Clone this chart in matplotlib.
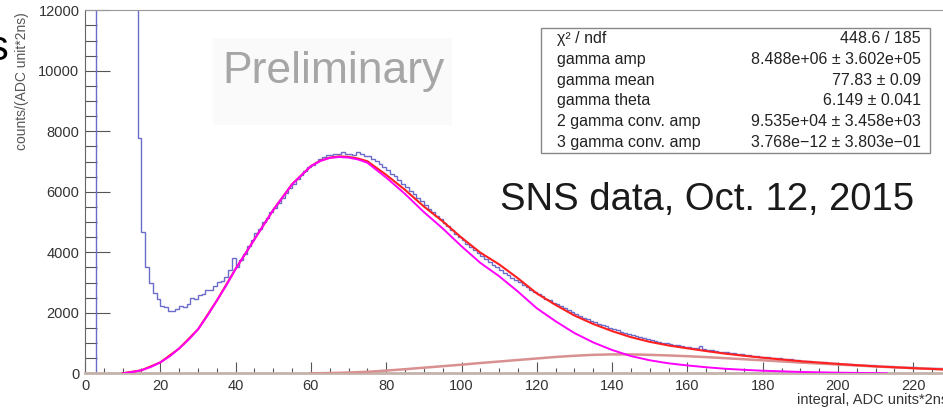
import matplotlib
matplotlib.use('Agg')
import matplotlib.pyplot as plt
from matplotlib.ticker import MultipleLocator
from matplotlib.patches import Rectangle

plt.rcParams['font.family'] = ['Liberation Sans', 'DejaVu Sans']

# histogram, 1 ADC*2ns per bin, bins 0..229
hist_counts = [
    0, 0, 0, 52000, 61000, 58000, 49000, 40000, 33000, 27000,
    22000, 18000, 15500, 13000, 7770, 4660, 3500, 2975, 2645, 2450,
    2230, 2180, 2060, 2050, 2110, 2220, 2200, 2290, 2480, 2460,
    2590, 2620, 2750, 2760, 2890, 3030, 3050, 3190, 3420, 3800,
    3500, 3760, 3950, 4200, 4400, 4650, 4780, 5000, 5130, 5330,
    5450, 5620, 5800, 5950, 6120, 6250, 6420, 6560, 6700, 6810,
    6900, 6990, 7100, 7140, 7200, 7220, 7260, 7240, 7330, 7250,
    7240, 7230, 7320, 7250, 7180, 7190, 7080, 7020, 6930, 6830,
    6720, 6600, 6510, 6380, 6260, 6160, 6020, 5920, 5790, 5680,
    5560, 5430, 5320, 5190, 5100, 4970, 4860, 4730, 4620, 4490,
    4400, 4290, 4190, 4090, 3980, 3890, 3790, 3690, 3590, 3500,
    3420, 3320, 3250, 3160, 3080, 3010, 2920, 2850, 2760, 2690,
    2610, 2550, 2470, 2420, 2340, 2280, 2210, 2150, 2080, 2010,
    1960, 1900, 1840, 1800, 1740, 1690, 1640, 1590, 1550, 1500,
    1460, 1420, 1380, 1340, 1300, 1260, 1220, 1190, 1160, 1120,
    1100, 1070, 1040, 1010, 990, 960, 940, 920, 900, 880,
    860, 840, 830, 900, 800, 780, 760, 740, 720, 710,
    690, 670, 660, 640, 630, 610, 600, 580, 570, 550,
    540, 530, 510, 500, 490, 480, 470, 460, 440, 430,
    420, 410, 400, 390, 390, 370, 360, 350, 340, 330,
    320, 320, 310, 300, 290, 290, 280, 270, 260, 260,
    250, 250, 240, 230, 230, 220, 220, 210, 210, 200,
    200, 190, 190, 180, 180, 170, 170, 160, 160, 150,
]
bin_edges = list(range(len(hist_counts) + 1))

# gamma component (magenta)
gamma_x = [10, 12.5, 15, 17.5, 20, 22.5, 25, 27.5, 30, 32.5, 35, 37.5, 40,
           45, 50, 55, 60, 62.5, 65, 67.5, 70, 72.5, 75, 80, 85,
           90, 95, 100, 105, 110, 115, 120, 125, 130, 135, 140, 145, 150,
           155, 160, 165, 170, 175, 180, 190, 200, 213]
gamma_y = [0, 40, 100, 210, 360, 560, 820, 1110, 1450, 1900, 2400, 2900, 3450,
           4430, 5400, 6250, 6850, 7020, 7120, 7150, 7130, 7070, 6960, 6470,
           5930, 5330, 4790, 4200, 3650, 3210, 2700, 2150,
           1720, 1330, 1020, 770, 570, 430, 330, 260, 200, 150, 115, 85, 45,
           20, 0]

# 2 gamma conversion component (pale red)
conv_x = [60, 65, 70, 75, 80, 85, 90, 95, 100, 105, 110, 115, 120, 125, 130,
          135, 140, 145, 150, 155, 160, 165, 170, 175, 180, 190, 200, 210,
          220, 230]
conv_y = [0, 8, 25, 50, 90, 135, 185, 235, 285, 340, 390, 440, 490, 540, 580,
          610, 625, 625, 610, 590, 565, 535, 500, 465, 430, 355, 290, 225,
          170, 120]

# total fit (red)
total_x = [10, 15, 20, 25, 30, 35, 40, 45, 50, 55, 60, 62.5, 65, 67.5, 70,
           72.5, 75, 80, 85, 90, 95, 100, 105, 110, 115, 120, 125, 130, 135,
           140, 145, 150, 155, 160, 165, 170, 175, 180, 190, 200, 210, 220, 230]
total_y = [0, 100, 360, 820, 1450, 2400, 3450, 4430, 5400, 6250, 6850, 7025,
           7130, 7170, 7155, 7100, 7010, 6560, 6065, 5515, 5025, 4485, 3990,
           3600, 3140, 2640, 2260, 1910, 1630, 1395, 1195, 1040, 920, 825, 735,
           650, 580, 515, 400, 310, 230, 170, 120]

stat_names = ['χ² / ndf', 'gamma amp', 'gamma mean', 'gamma theta',
              '2 gamma conv. amp', '3 gamma conv. amp']
stat_values = ['448.6 / 185', '8.488e+06 ± 3.602e+05', '77.83 ± 0.09',
               '6.149 ± 0.041', '9.535e+04 ± 3.458e+03',
               '3.768e−12 ± 3.803e−01']

W, H = 943, 411
fig = plt.figure(figsize=(W / 100, H / 100), dpi=100)


def fx(px):
    return px / W


def fy(py):
    return 1 - py / H


# faint patch behind "Preliminary"
fig.patches.append(Rectangle((fx(213), fy(125)), fx(452) - fx(213), fy(38) - fy(125),
                             transform=fig.transFigure, fc='#fafafa', ec='none', zorder=0))

ax = fig.add_axes([fx(85), 37.7 / H, 230 * 3.765 / W, 363 / H])
ax.patch.set_alpha(0)

ax.stairs(hist_counts, bin_edges, color='#6b6bcc', lw=1, zorder=2)
ax.plot(conv_x, conv_y, color='#d99090', lw=1.8, zorder=3)
ax.plot(total_x, total_y, color='#ff2020', lw=1.5, zorder=4)
ax.plot(gamma_x, gamma_y, color='#ff00ff', lw=1.4, zorder=5)

ax.set_xlim(0, 230)
ax.set_ylim(0, 12000)
ax.xaxis.set_major_locator(MultipleLocator(20))
ax.xaxis.set_minor_locator(MultipleLocator(5))
ax.yaxis.set_major_locator(MultipleLocator(2000))
ax.yaxis.set_minor_locator(MultipleLocator(500))

ax.tick_params(which='both', direction='in', color='#555555', width=0.8,
               labelsize=10.5, labelcolor='#333333')
ax.tick_params(axis='y', which='major', length=18, pad=4)
ax.tick_params(axis='y', which='minor', length=8.5)
ax.tick_params(axis='x', which='major', length=7.7, pad=4)
ax.tick_params(axis='x', which='minor', length=3.6)

ax.spines['top'].set_color('#999999')
ax.spines['left'].set_color('#666666')
ax.spines['bottom'].set_color('#c4b2ab')
ax.spines['bottom'].set_linewidth(2)
ax.spines['right'].set_visible(False)

fig.text(fx(22), fy(12), 'counts/(ADC unit*2ns)', rotation=90, ha='center',
         va='top', fontsize=10, color='#555555')
fig.text(fx(797), fy(400), 'integral, ADC units*2ns', ha='left', va='center',
         fontsize=10.5, color='#333333')

fig.text(fx(9), fy(60), 's', ha='right', va='baseline', fontsize=30, color='black')
fig.text(fx(334), fy(72), 'Preliminary', ha='center', va='center', fontsize=32,
         color='#a6a6a6')
fig.text(fx(500), fy(200), 'SNS data, Oct. 12, 2015', ha='left', va='center',
         fontsize=27.5, color='#1a1a1a')

# stats box
bx0, bx1, by0, by1 = 541, 930, 28, 153
fig.patches.append(Rectangle((fx(bx0), fy(by1)), fx(bx1) - fx(bx0), fy(by0) - fy(by1),
                             transform=fig.transFigure, fc='white', ec='#888888',
                             lw=1, zorder=10))
row_h = (by1 - by0) / len(stat_names)
for i, (name, val) in enumerate(zip(stat_names, stat_values)):
    yc = by0 + row_h * (i + 0.5)
    fig.text(fx(557), fy(yc), name, ha='left', va='center', fontsize=11.5,
             color='#222222', zorder=11)
    fig.text(fx(921), fy(yc), val, ha='right', va='center', fontsize=11.5,
             color='#222222', zorder=11)

fig.savefig('out.png', dpi=100)
